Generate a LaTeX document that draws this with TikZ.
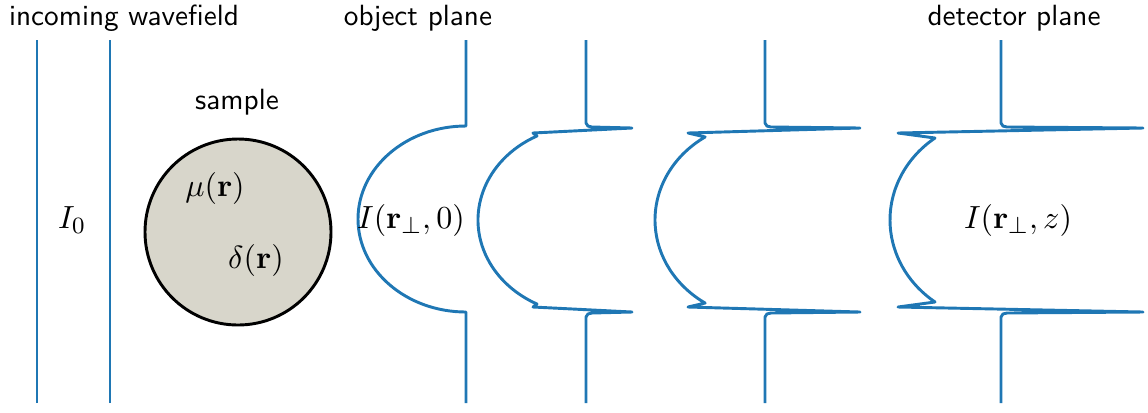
\documentclass[tikz,border=0pt]{standalone}
\usepackage{amsmath, amssymb}
\usepackage{bm}
\usepackage{tikz}

\definecolor{waveblue}{RGB}{31,119,180}
\definecolor{samplegray}{RGB}{216,214,203}

\begin{document}
\begin{tikzpicture}[x=0.342pt,y=0.342pt,
  wave/.style={waveblue,line width=1pt,line join=round},
  lbl/.style={font=\sffamily,inner sep=0pt},
  mlbl/.style={font=\fontsize{11}{13}\selectfont,inner sep=0pt}]
\useasboundingbox (0,0) rectangle (1148,412);

% titles
\node[lbl] (incoming) at (124,394) {incoming wavefield};
\node[lbl] (objplane) at (418,394) {object plane};
\node[lbl] (detplane) at (1014,394) {detector plane};

% incoming plane wave
\draw[wave] (37,9) -- (37,372);
\draw[wave] (110,9) -- (110,372);
\node[mlbl] (I0) at (72,192) {$I_0$};

% sample
\filldraw[fill=samplegray,draw=black,line width=1pt] (238,180) circle (93);
\node[lbl] (sample) at (237,310) {sample};
\node[mlbl] (mu) at (215,224) {$\mu(\mathbf{r})$};
\node[mlbl] (delta) at (256,152) {$\delta(\mathbf{r})$};

% object plane
\draw[wave] (466,372) -- (466,286)
  arc[start angle=90,end angle=270,x radius=108,y radius=93] -- (466,9);
\node[mlbl] (Iobj) at (411,192) {$I(\mathbf{r}_{\perp},0)$};

% propagated intensities with edge fringes
\foreach \b/\s/\d/\a/\rx/\ry in {586/632/533/117/108/94.3,
                                 765/860/688/123/110/99,
                                 1001/1143/898/126.5/111/102}
{
  \draw[wave] (\b,372) -- (\b,289) to[out=-90,in=180] (\b+6,285)
    -- (\s,284) -- (\d,279) -- ({\b+\rx*cos(\a)},{192+\ry*sin(\a)})
    arc[start angle=\a,end angle=360-\a,x radius=\rx,y radius=\ry]
    -- (\d,105) -- (\s,100) -- (\b+6,99) to[out=180,in=90] (\b,95)
    -- (\b,9);
}
\node[mlbl] (Idet) at (1018,192) {$I(\mathbf{r}_{\perp},z)$};
\end{tikzpicture}
\end{document}
